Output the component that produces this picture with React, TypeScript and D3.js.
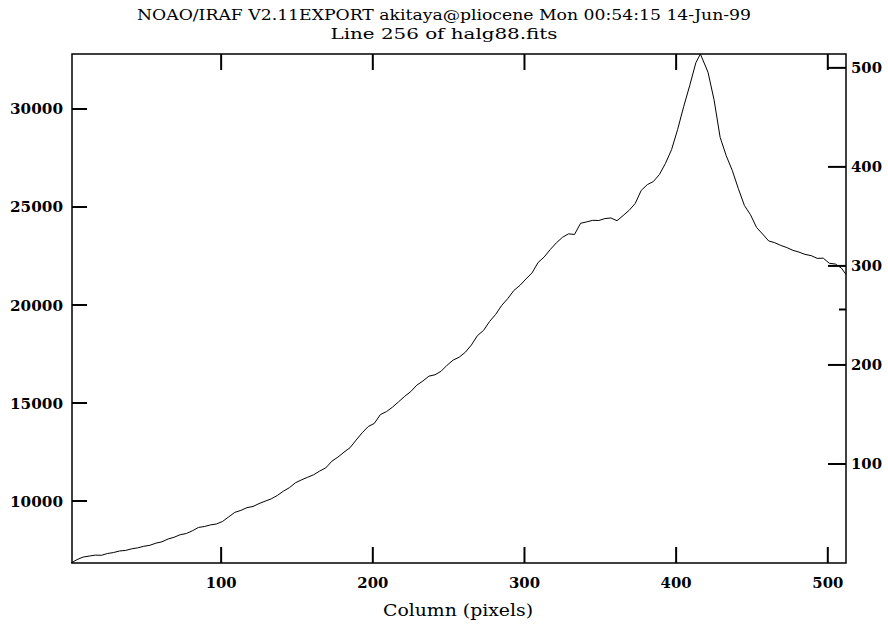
import React from "react";
import * as d3 from "d3";

// Column numbers (about every 4th column, plus the last one)
const columns: number[] = [
  1, 5, 9, 13, 17, 21, 25, 29, 33, 37, 41, 45, 49, 53, 57, 61, 65, 69, 73, 77,
  81, 85, 89, 93, 97, 101, 105, 109, 113, 117, 121, 125, 129, 133, 137, 141, 145, 149, 153, 157,
  161, 165, 169, 173, 177, 181, 185, 189, 193, 197, 201, 205, 209, 213, 217, 221, 225, 229, 233, 237,
  241, 245, 249, 253, 257, 261, 265, 269, 273, 277, 281, 285, 289, 293, 297, 301, 305, 309, 313, 317,
  321, 325, 329, 333, 337, 341, 345, 349, 353, 357, 361, 365, 369, 373, 377, 381, 385, 389, 393, 397,
  401, 405, 409, 413, 416, 421, 425, 429, 433, 437, 441, 445, 449, 453, 457, 461, 465, 469, 473, 477,
  481, 485, 489, 493, 497, 501, 505, 509, 512,
];

// Counts
const counts: number[] = [
  6837, 7010, 7140, 7190, 7240, 7230, 7320, 7370, 7450, 7480, 7560, 7610, 7690, 7740, 7850, 7920, 8060, 8150, 8280, 8340,
  8480, 8650, 8700, 8780, 8830, 8960, 9190, 9420, 9520, 9660, 9720, 9870, 9990, 10110, 10280, 10500, 10680, 10930, 11080, 11210,
  11340, 11530, 11690, 12030, 12240, 12490, 12720, 13110, 13480, 13800, 13960, 14410, 14560, 14790, 15060, 15340, 15580, 15910, 16120, 16370,
  16440, 16620, 16930, 17190, 17340, 17590, 17960, 18440, 18700, 19160, 19520, 19980, 20330, 20740, 21000, 21330, 21640, 22170, 22450, 22830,
  23170, 23450, 23630, 23600, 24170, 24240, 24320, 24310, 24410, 24440, 24300, 24560, 24830, 25180, 25850, 26140, 26300, 26660, 27230, 27930,
  28960, 30130, 31210, 32360, 32806, 31880, 30470, 28560, 27620, 26870, 25940, 25080, 24610, 23960, 23620, 23270, 23180, 23040, 22930, 22790,
  22700, 22580, 22520, 22380, 22390, 22130, 22090, 21880, 21560,
];

const leftTicks: number[] = [10000, 15000, 20000, 25000, 30000];
const bottomTicks: number[] = [100, 200, 300, 400, 500];
const rightTicks: number[] = [100, 200, 300, 400, 500];
const lineMarker: number[] = [256];

const titleLines: string[] = [
  "NOAO/IRAF V2.11EXPORT akitaya@pliocene Mon 00:54:15 14-Jun-99",
  "Line 256 of halg88.fits",
];
const xTitle = "Column (pixels)";

const W = 888;
const H = 628;
const left = 72;
const right = 846;
const top = 54;
const bottom = 563;

const labelFont = "'DejaVu Serif', serif";
const titleFont = "'DejaVu Serif Condensed', 'DejaVu Serif', serif";

export default function App() {
  const x = d3.scaleLinear().domain([1, 512]).range([left - 1, right]);
  const yExt = d3.extent(counts) as [number, number];
  const y = d3.scaleLinear().domain(yExt).range([bottom, top]);
  const yR = d3.scaleLinear().domain([0, 514]).range([bottom, top]);

  const data = columns.map((c, i) => [c, counts[i]] as [number, number]);
  const line = d3
    .line<[number, number]>()
    .x((d) => x(d[0]))
    .y((d) => y(d[1]))
    .curve(d3.curveLinear);

  return (
    <svg
      width={W}
      height={H}
      style={{ position: "absolute", left: 0, top: 0, background: "#fff" }}
    >
      <rect x={0} y={0} width={W} height={H} fill="#fff" />
      {titleLines.map((t, i) => (
        <text
          key={i}
          x={W / 2}
          y={20 + i * 19}
          textAnchor="middle"
          fontFamily={titleFont}
          fontSize={15}
          textLength={i === 0 ? 614 : 227}
          lengthAdjust="spacingAndGlyphs"
          fill="#000"
        >
          {t}
        </text>
      ))}

      <path d={line(data) || ""} fill="none" stroke="#000" strokeWidth={1} />

      <rect
        x={left}
        y={top}
        width={right - left}
        height={bottom - top}
        fill="none"
        stroke="#000"
        strokeWidth={1.5}
      />

      {leftTicks.map((t) => (
        <g key={"l" + t}>
          <line x1={left} x2={left + 15} y1={y(t)} y2={y(t)} stroke="#000" strokeWidth={2} />
          <text
            x={63}
            y={y(t) + 5.5}
            textAnchor="end"
            fontFamily={labelFont}
            fontWeight="bold"
            fontSize={14}
            textLength={53}
            lengthAdjust="spacingAndGlyphs"
            fill="#000"
          >
            {t}
          </text>
        </g>
      ))}

      {bottomTicks.map((t) => (
        <g key={"b" + t}>
          <line x1={x(t)} x2={x(t)} y1={bottom} y2={bottom - 16} stroke="#000" strokeWidth={2} />
          <line x1={x(t)} x2={x(t)} y1={top} y2={top + 16} stroke="#000" strokeWidth={2} />
          <text
            x={x(t)}
            y={588}
            textAnchor="middle"
            fontFamily={labelFont}
            fontWeight="bold"
            fontSize={14}
            textLength={31}
            lengthAdjust="spacingAndGlyphs"
            fill="#000"
          >
            {t}
          </text>
        </g>
      ))}

      {rightTicks.map((t) => (
        <g key={"r" + t}>
          <line x1={right - 18} x2={right} y1={yR(t)} y2={yR(t)} stroke="#000" strokeWidth={2} />
          <text
            x={851}
            y={yR(t) + 5.5}
            textAnchor="start"
            fontFamily={labelFont}
            fontWeight="bold"
            fontSize={14}
            textLength={31}
            lengthAdjust="spacingAndGlyphs"
            fill="#000"
          >
            {t}
          </text>
        </g>
      ))}

      {lineMarker.map((t) => (
        <line
          key={"m" + t}
          x1={right - 7}
          x2={right}
          y1={yR(t)}
          y2={yR(t)}
          stroke="#000"
          strokeWidth={2}
        />
      ))}

      <text
        x={458}
        y={616}
        textAnchor="middle"
        fontFamily={titleFont}
        fontSize={16}
        textLength={150}
        lengthAdjust="spacingAndGlyphs"
        fill="#000"
      >
        {xTitle}
      </text>
    </svg>
  );
}
